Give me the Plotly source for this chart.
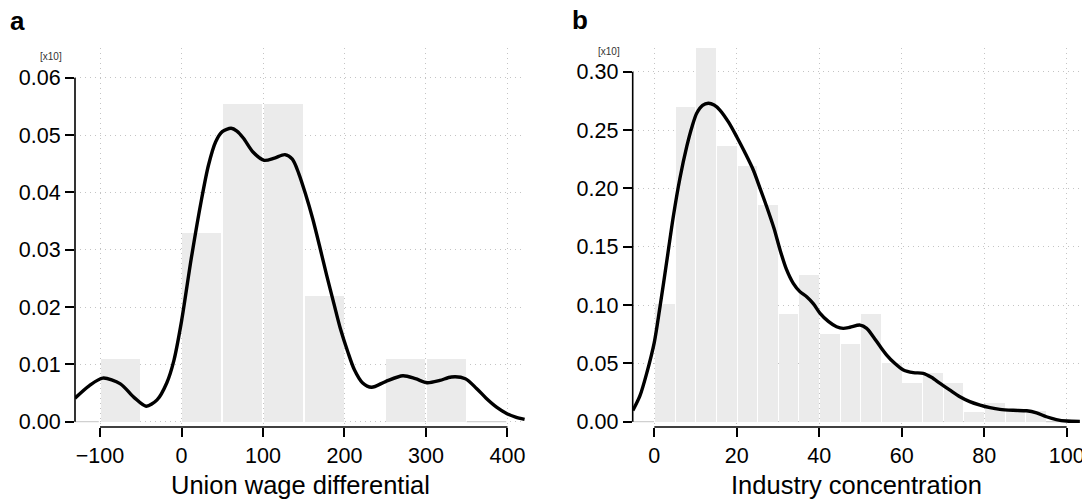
import plotly.graph_objects as go

# ---------------- data ----------------
# Panel a: histogram (density x10) of union wage differential, bin width 50
a_bin_left = [-150, -100, -50, 0, 50, 100, 150, 200, 250, 300, 350]
a_bin_val = [0.0, 0.011, 0.0, 0.033, 0.0555, 0.0555, 0.022, 0.0, 0.011, 0.011, 0.0]
a_bin_width = 50
# Panel a: density curve
a_curve_x = [-130.7, -113, -96.6, -75, -58, -43.4, -30, -18, -9.3, 0, 12, 24.7, 33, 41.8,
             50, 60.9, 68, 75.8, 88, 101.4, 114.1, 126.9, 136, 143.9, 152, 161, 170,
             178, 187, 195, 204, 212, 222, 233.3, 250.4, 271.7, 287, 301.4, 317, 331.2,
             348.3, 362, 373.8, 387, 399.4, 410, 421]
a_curve_y = [0.0041, 0.0063, 0.0076, 0.0066, 0.0042, 0.0027, 0.0038, 0.0068, 0.0107, 0.0175,
             0.0285, 0.0389, 0.0447, 0.0488, 0.0506, 0.0512, 0.0507, 0.0495, 0.0470, 0.0456,
             0.0460, 0.0466, 0.0458, 0.0433, 0.0398, 0.0354, 0.0303, 0.0256, 0.0206, 0.0162,
             0.0122, 0.0091, 0.0068, 0.0060, 0.0070, 0.0080, 0.0075, 0.0068, 0.0072, 0.0078,
             0.0075, 0.0058, 0.0041, 0.0025, 0.0014, 0.0008, 0.0004]
a_xticks = [-100, 0, 100, 200, 300, 400]
a_yticks = [0.00, 0.01, 0.02, 0.03, 0.04, 0.05, 0.06]
a_xrange = [-130.7, 421.5]
a_yrange = [-0.00093, 0.0652]

# Panel b: histogram (density x10) of industry concentration, bin width 5
b_bin_left = [-5, 0, 5, 10, 15, 20, 25, 30, 35, 40, 45, 50, 55, 60, 65, 70, 75, 80, 85, 90, 95]
b_bin_val = [0.0, 0.1006, 0.270, 0.3204, 0.2364, 0.219, 0.1855, 0.0923, 0.126, 0.0754, 0.0668,
             0.0923, 0.0503, 0.0335, 0.0414, 0.0335, 0.0080, 0.0160, 0.0092, 0.0092, 0.0]
b_bin_width = 5
b_curve_x = [-5.2, -3.5, -1.85, 0, 1.38, 3, 4.6, 6.2, 7.86, 9.2, 10.28, 11.7, 13.1, 14.5,
             15.9, 18, 19.98, 22, 24, 25.6, 27.26, 29, 30.5, 32, 33.7, 35.3, 36.95, 38.6,
             40.2, 42.2, 44.2, 45.8, 47.45, 49.9, 51.5, 53.1, 54.7, 56.35, 58.3, 60.4, 62.8,
             65.2, 67.2, 69.3, 71.7, 74.1, 76.5, 79, 81.4, 83.8, 87, 90.3, 92.7, 95.1, 97.5,
             100, 103.2]
b_curve_y = [0.0095, 0.022, 0.0414, 0.068, 0.0985, 0.137, 0.1757, 0.2085, 0.2358, 0.2535,
             0.2644, 0.2712, 0.273, 0.2715, 0.2672, 0.2568, 0.2443, 0.2305, 0.2158, 0.2005,
             0.1843, 0.1660, 0.1472, 0.1310, 0.1186, 0.1115, 0.1071, 0.1010, 0.0929, 0.0860,
             0.0814, 0.0800, 0.0809, 0.0828, 0.0800, 0.0728, 0.0648, 0.0571, 0.0500, 0.0443,
             0.0420, 0.0414, 0.0380, 0.0328, 0.0270, 0.0214, 0.0172, 0.0142, 0.0120, 0.0105,
             0.0097, 0.0093, 0.0075, 0.0042, 0.0018, 0.0005, 0.0002]
b_xticks = [0, 20, 40, 60, 80, 100]
b_yticks = [0.00, 0.05, 0.10, 0.15, 0.20, 0.25, 0.30]
b_xrange = [-5.24, 103.4]
b_yrange = [-0.0046, 0.3204]

panel_labels = ["a", "b"]
x_titles = ["Union wage differential", "Industry concentration"]
scale_note = "[x10]"

# ---------------- styling ----------------
# page body has an 8px default margin, so the figure is sized to fit inside it
OFF = 8
W, H = 1090 - OFF, 504 - OFF
FONT = "Liberation Sans, Arial, Helvetica, sans-serif"
BAR_COLOR = "#ebebeb"
GRID_COLOR = "#c4c4c4"

# pixel geometry (window coordinates) of the two plot areas
a_px = (75, 525)
b_px = (632.7, 1080.7)
top_px, bot_px = 48, 427


def fx(px):
    return (px - OFF) / W


def fy(py):
    return 1 - (py - OFF) / H


fig = go.Figure()


def add_panel(lefts, vals, bw, cx, cy, xaxis, yaxis):
    centers = [l + bw / 2 for l in lefts]
    fig.add_trace(go.Bar(
        x=centers, y=vals, width=[bw * 0.955] * len(vals),
        marker=dict(color=BAR_COLOR, line=dict(width=0)),
        xaxis=xaxis, yaxis=yaxis, showlegend=False, hoverinfo="skip"))
    # empty edge bins drawn as a thin grey baseline
    for i in (0, len(vals) - 1):
        if vals[i] == 0:
            fig.add_trace(go.Scatter(
                x=[lefts[i], lefts[i] + bw * 0.97], y=[0, 0], mode="lines",
                line=dict(color="#d0d0d0", width=1.2),
                xaxis=xaxis, yaxis=yaxis, showlegend=False, hoverinfo="skip"))
    fig.add_trace(go.Scatter(
        x=cx, y=cy, mode="lines", line=dict(color="black", width=3.4, shape="spline", smoothing=0.8),
        xaxis=xaxis, yaxis=yaxis, showlegend=False, hoverinfo="skip"))


add_panel(a_bin_left, a_bin_val, a_bin_width, a_curve_x, a_curve_y, "x", "y")
add_panel(b_bin_left, b_bin_val, b_bin_width, b_curve_x, b_curve_y, "x2", "y2")

tickfont = dict(family=FONT, size=21.5, color="black")


def xaxis_cfg(px, rng, ticks):
    return dict(domain=[fx(px[0]), fx(px[1])], range=rng, tickvals=ticks,
                ticktext=[("\u2212" + str(abs(t))) if t < 0 else str(t) for t in ticks],
                showline=False, zeroline=False, ticks="outside", ticklen=9, tickwidth=1.6,
                tickcolor="black", tickfont=tickfont, showgrid=True, gridcolor=GRID_COLOR,
                griddash="1px,4px", gridwidth=1.2, fixedrange=True, automargin=False)


def yaxis_cfg(rng, ticks, anchor):
    return dict(domain=[fy(bot_px), fy(top_px)], range=rng, tickvals=ticks,
                ticktext=["%.2f" % t for t in ticks], anchor=anchor,
                showline=False, zeroline=False, ticks="outside", ticklen=9, tickwidth=1.6,
                tickcolor="black", tickfont=tickfont, showgrid=True, gridcolor=GRID_COLOR,
                griddash="1px,4px", gridwidth=1.2, fixedrange=True, automargin=False)


fig.update_layout(
    width=W, height=H, margin=dict(l=0, r=0, t=0, b=0),
    paper_bgcolor="white", plot_bgcolor="white", bargap=0,
    font=dict(family=FONT, color="black"),
    xaxis=dict(xaxis_cfg(a_px, a_xrange, a_xticks), anchor="y"),
    yaxis=yaxis_cfg(a_yrange, a_yticks, "x"),
    xaxis2=dict(xaxis_cfg(b_px, b_xrange, b_xticks), anchor="y2"),
    yaxis2=yaxis_cfg(b_yrange, b_yticks, "x2"),
)

# range-frame axis lines (R style)
for xr, yr, xt, yt, px in (("x", "y", a_xticks, a_yticks, a_px), ("x2", "y2", b_xticks, b_yticks, b_px)):
    fig.add_shape(type="line", xref=xr, yref="paper", x0=xt[0], x1=xt[-1], y0=fy(bot_px), y1=fy(bot_px),
                  line=dict(color="black", width=1.6))
    fig.add_shape(type="line", xref="paper", yref=yr, x0=fx(px[0]), x1=fx(px[0]), y0=yt[0], y1=yt[-1],
                  line=dict(color="black", width=1.6))

# panel letters, scale notes, axis titles
for lab, lx, ly in zip(panel_labels, [17.5, 580], [21, 20]):
    fig.add_annotation(text="<b>%s</b>" % lab, x=fx(lx), y=fy(ly), xref="paper", yref="paper",
                       showarrow=False, xanchor="center", yanchor="middle",
                       font=dict(family=FONT, size=26, color="black"))
for nx, ny in ((50.5, 56.7), (609, 51.7)):
    fig.add_annotation(text=scale_note, x=fx(nx), y=fy(ny), xref="paper", yref="paper",
                       showarrow=False, xanchor="center", yanchor="middle",
                       font=dict(family=FONT, size=10, color="#333333"))
for t, px in zip(x_titles, (a_px, b_px)):
    fig.add_annotation(text=t, x=fx((px[0] + px[1]) / 2), y=fy(485), xref="paper", yref="paper",
                       showarrow=False, xanchor="center", yanchor="middle",
                       font=dict(family=FONT, size=25.5, color="black"))

fig.write_html("out.html")
